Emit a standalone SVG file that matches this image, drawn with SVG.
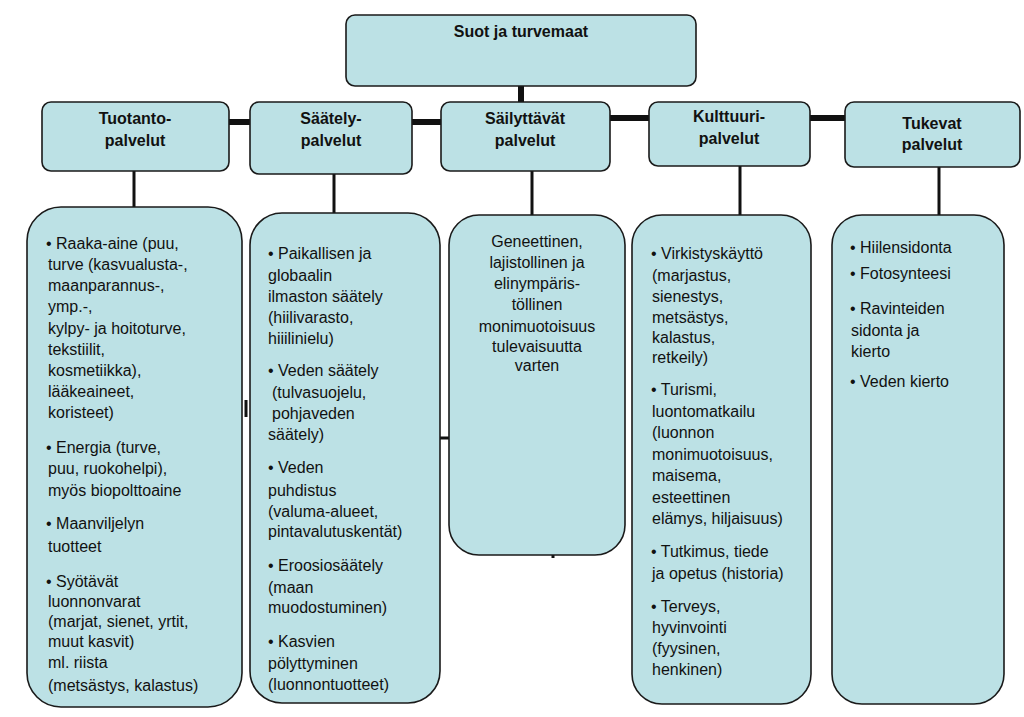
<svg xmlns="http://www.w3.org/2000/svg" width="1024" height="717" viewBox="0 0 1024 717">
<style>
.b{fill:#bce1e5;stroke:#1a1a1a;stroke-width:1.6}
text{font-family:"Liberation Sans",Arial,sans-serif;font-size:16px;fill:#111}
.h{font-weight:bold;text-anchor:middle}
.c{text-anchor:middle}
.k{stroke:#111;fill:none}
</style>
<rect width="1024" height="717" fill="#fff"/>
<g id="connectors">
<line class="k" x1="521" y1="86" x2="521" y2="103" stroke-width="6"/>
<line class="k" x1="228" y1="122" x2="251" y2="122" stroke-width="6"/>
<line class="k" x1="411" y1="122" x2="442" y2="122" stroke-width="6"/>
<line class="k" x1="609" y1="118" x2="650" y2="118" stroke-width="6"/>
<line class="k" x1="809" y1="118" x2="846" y2="118" stroke-width="6"/>
<line class="k" x1="134" y1="171" x2="134" y2="208" stroke-width="3"/>
<line class="k" x1="334" y1="174" x2="334" y2="214" stroke-width="3"/>
<line class="k" x1="532" y1="171" x2="532" y2="216" stroke-width="3"/>
<line class="k" x1="740" y1="166" x2="740" y2="216" stroke-width="3"/>
<line class="k" x1="939" y1="167" x2="939" y2="216" stroke-width="3"/>
<line class="k" x1="246" y1="400" x2="246" y2="417" stroke-width="3"/>
<line class="k" x1="440" y1="438" x2="450" y2="438" stroke-width="3"/>
<line class="k" x1="553" y1="554" x2="553" y2="558" stroke-width="3"/>
</g>
<g id="root"><rect class="b" x="346" y="15" width="350" height="71" rx="9"/><text class="h" x="521" y="37">Suot ja turvemaat</text></g>
<g id="n1"><rect class="b" x="42" y="102" width="187" height="69" rx="9"/><text class="h" x="135" y="124">Tuotanto-</text><text class="h" x="135" y="146">palvelut</text></g>
<g id="n2"><rect class="b" x="250" y="102" width="162" height="72" rx="9"/><text class="h" x="331" y="124">Säätely-</text><text class="h" x="331" y="146">palvelut</text></g>
<g id="n3"><rect class="b" x="441" y="102" width="169" height="69" rx="9"/><text class="h" x="525" y="124">Säilyttävät</text><text class="h" x="525" y="146">palvelut</text></g>
<g id="n4"><rect class="b" x="649" y="102" width="161" height="64" rx="9"/><text class="h" x="729" y="122">Kulttuuri-</text><text class="h" x="729" y="144">palvelut</text></g>
<g id="n5"><rect class="b" x="845" y="102" width="175" height="65" rx="9"/><text class="h" x="932" y="129">Tukevat</text><text class="h" x="932" y="150">palvelut</text></g>
<g id="d1"><rect class="b" x="27" y="207" width="215" height="500" rx="34"/>
<text x="46" y="249">• Raaka-aine (puu,</text><text x="48" y="270">turve (kasvualusta-,</text><text x="48" y="291">maanparannus-,</text><text x="48" y="312">ymp.-,</text><text x="48" y="334">kylpy- ja hoitoturve,</text><text x="48" y="355">tekstiilit,</text><text x="48" y="376">kosmetiikka),</text><text x="48" y="397">lääkeaineet,</text><text x="48" y="418">koristeet)</text>
<text x="46" y="453">• Energia (turve,</text><text x="48" y="474">puu, ruokohelpi),</text><text x="48" y="496">myös biopolttoaine</text>
<text x="46" y="529">• Maanviljelyn</text><text x="48" y="552">tuotteet</text>
<text x="46" y="587">• Syötävät</text><text x="48" y="607">luonnonvarat</text><text x="48" y="627">(marjat, sienet, yrtit,</text><text x="48" y="647">muut kasvit)</text><text x="48" y="668">ml. riista</text><text x="48" y="691">(metsästys, kalastus)</text></g>
<g id="d2"><rect class="b" x="250" y="213" width="190" height="490" rx="32"/>
<text x="268" y="259">• Paikallisen ja</text><text x="268" y="281">globaalin</text><text x="268" y="302">ilmaston säätely</text><text x="268" y="323">(hiilivarasto,</text><text x="268" y="344">hiiilinielu)</text>
<text x="268" y="376">• Veden säätely</text><text x="272" y="398">(tulvasuojelu,</text><text x="272" y="419">pohjaveden</text><text x="268" y="440">säätely)</text>
<text x="268" y="473">• Veden</text><text x="268" y="496">puhdistus</text><text x="268" y="517">(valuma-alueet,</text><text x="268" y="537">pintavalutuskentät)</text>
<text x="268" y="571">• Eroosiosäätely</text><text x="268" y="593">(maan</text><text x="268" y="613">muodostuminen)</text>
<text x="268" y="647">• Kasvien</text><text x="268" y="669">pölyttyminen</text><text x="268" y="690">(luonnontuotteet)</text></g>
<g id="d3"><rect class="b" x="449" y="215" width="176" height="340" rx="30"/>
<text class="c" x="537" y="247">Geneettinen,</text><text class="c" x="537" y="268">lajistollinen ja</text><text class="c" x="537" y="289">elinympäris-</text><text class="c" x="537" y="310">töllinen</text><text class="c" x="537" y="332">monimuotoisuus</text><text class="c" x="537" y="352">tulevaisuutta</text><text class="c" x="537" y="371">varten</text></g>
<g id="d4"><rect class="b" x="632" y="215" width="179" height="489" rx="30"/>
<text x="651" y="259">• Virkistyskäyttö</text><text x="652" y="281">(marjastus,</text><text x="652" y="302">sienestys,</text><text x="652" y="323">metsästys,</text><text x="652" y="343">kalastus,</text><text x="652" y="363">retkeily)</text>
<text x="651" y="395">• Turismi,</text><text x="652" y="417">luontomatkailu</text><text x="652" y="438">(luonnon</text><text x="652" y="460">monimuotoisuus,</text><text x="652" y="481">maisema,</text><text x="652" y="503">esteettinen</text><text x="652" y="524">elämys, hiljaisuus)</text>
<text x="651" y="557">• Tutkimus, tiede</text><text x="652" y="579">ja opetus (historia)</text>
<text x="651" y="612">• Terveys,</text><text x="652" y="633">hyvinvointi</text><text x="652" y="654">(fyysinen,</text><text x="652" y="675">henkinen)</text></g>
<g id="d5"><rect class="b" x="832" y="215" width="172" height="489" rx="30"/>
<text x="850" y="253">• Hiilensidonta</text><text x="850" y="279">• Fotosynteesi</text><text x="850" y="314">• Ravinteiden</text><text x="851" y="336">sidonta ja</text><text x="851" y="357">kierto</text><text x="850" y="387">• Veden kierto</text></g>
</svg>
